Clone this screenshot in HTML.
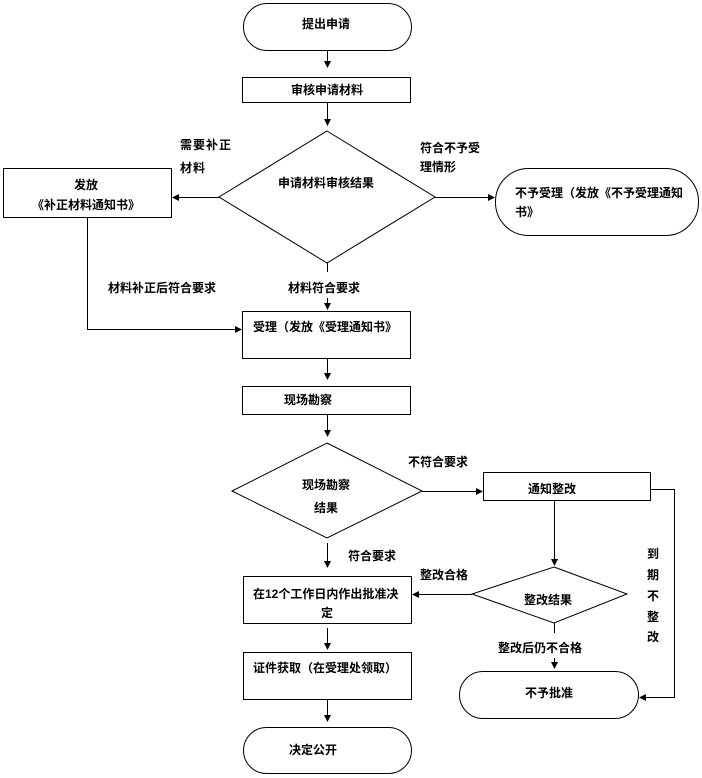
<!DOCTYPE html>
<html><head><meta charset="utf-8"><style>
html,body{margin:0;padding:0;background:#fff;}
svg{display:block;}
text{font-family:"Liberation Sans","Noto Sans CJK SC",sans-serif;font-size:12px;font-weight:bold;fill:#000;}
</style></head><body>
<svg width="702" height="778" viewBox="0 0 702 778" xmlns="http://www.w3.org/2000/svg">
<g fill="none" stroke="#000" stroke-width="1">
<rect x="243.5" y="3.5" width="168" height="47" rx="23.5"/>
<rect x="242.5" y="77.5" width="168" height="25"/>
<polygon points="327,131 435,197 327,263 219,197"/>
<rect x="3.5" y="168.5" width="168" height="49"/>
<rect x="495.5" y="168.5" width="203" height="67" rx="33"/>
<rect x="242.5" y="311.5" width="168" height="47"/>
<rect x="242.5" y="386.5" width="168" height="28"/>
<polygon points="327,443 422,491 327,538 232,491"/>
<rect x="483.5" y="472.5" width="167" height="28"/>
<polygon points="554,567 627,594 554,623 472,594"/>
<rect x="243.5" y="576.5" width="168" height="47"/>
<rect x="243.5" y="652.5" width="168" height="47"/>
<rect x="459.5" y="671.5" width="179" height="47" rx="23.5"/>
<rect x="243.5" y="727.5" width="168" height="46" rx="23"/>
<!-- connectors -->
<path d="M327.5 50 V62"/>
<path d="M327.5 102 V120"/>
<path d="M219 197.5 H178"/>
<path d="M435 197.5 H489"/>
<path d="M87.5 217 V329.5 H236"/>
<path d="M327.5 263 V272"/>
<path d="M327.5 298 V304"/>
<path d="M327.5 358 V374"/>
<path d="M327.5 414 V431"/>
<path d="M422 491.5 H477"/>
<path d="M651 489.5 H674.5 V697.5 H645"/>
<path d="M554.5 500 V560"/>
<path d="M472 594.5 H418"/>
<path d="M327.5 543 V562"/>
<path d="M554.5 623 V633"/>
<path d="M554.5 658 V663"/>
<path d="M327.5 628 V644"/>
<path d="M327.5 699 V716"/>
</g>
<g fill="#000">
<polygon points="324,61 331,61 327.5,68"/>
<polygon points="324,119 331,119 327.5,126"/>
<polygon points="179,194 179,201 172,197.5"/>
<polygon points="488,194 488,201 495,197.5"/>
<polygon points="235,326 235,333 242,329.5"/>
<polygon points="324,303 331,303 327.5,310"/>
<polygon points="324,373 331,373 327.5,380"/>
<polygon points="324,430 331,430 327.5,437"/>
<polygon points="476,488 476,495 483,491.5"/>
<polygon points="646,694 646,701 639,697.5"/>
<polygon points="551,559 558,559 554.5,566"/>
<polygon points="419,591 419,598 412,594.5"/>
<polygon points="324,561 331,561 327.5,568"/>
<polygon points="551,662 558,662 554.5,669"/>
<polygon points="324,643 331,643 327.5,650"/>
<polygon points="324,715 331,715 327.5,722"/>
</g>
<text x="326" y="28" text-anchor="middle">提出申请</text>
<text x="327" y="94" text-anchor="middle">审核申请材料</text>
<text x="326" y="187" text-anchor="middle">申请材料审核结果</text>
<text x="180" y="149" letter-spacing="1">需要补正</text>
<text x="180" y="172" letter-spacing="1">材料</text>
<text x="86" y="189" text-anchor="middle">发放</text>
<text x="86" y="209" text-anchor="middle">《补正材料通知书》</text>
<text x="420" y="152">符合不予受</text>
<text x="420" y="171">理情形</text>
<text x="515" y="197">不予受理（发放《不予受理通知</text>
<text x="515" y="216">书》</text>
<text x="108" y="292">材料补正后符合要求</text>
<text x="288" y="292">材料符合要求</text>
<text x="253" y="331">受理（发放《受理通知书》</text>
<text x="308" y="404" text-anchor="middle">现场勘察</text>
<text x="326" y="489" text-anchor="middle">现场勘察</text>
<text x="326" y="512" text-anchor="middle">结果</text>
<text x="408" y="466">不符合要求</text>
<text x="552" y="493" text-anchor="middle">通知整改</text>
<text x="348" y="560">符合要求</text>
<text x="420" y="579">整改合格</text>
<text x="253" y="598">在12个工作日内作出批准决</text>
<text x="327" y="617" text-anchor="middle">定</text>
<text x="548" y="604" text-anchor="middle">整改结果</text>
<text x="540" y="652" text-anchor="middle">整改后仍不合格</text>
<text x="549" y="697" text-anchor="middle">不予批准</text>
<text x="253" y="672">证件获取（在受理处领取）</text>
<text x="313" y="754" text-anchor="middle">决定公开</text>
<text x="653" y="558" text-anchor="middle">到</text>
<text x="653" y="579" text-anchor="middle">期</text>
<text x="653" y="600" text-anchor="middle">不</text>
<text x="653" y="621" text-anchor="middle">整</text>
<text x="653" y="641" text-anchor="middle">改</text>
</svg>
</body></html>
